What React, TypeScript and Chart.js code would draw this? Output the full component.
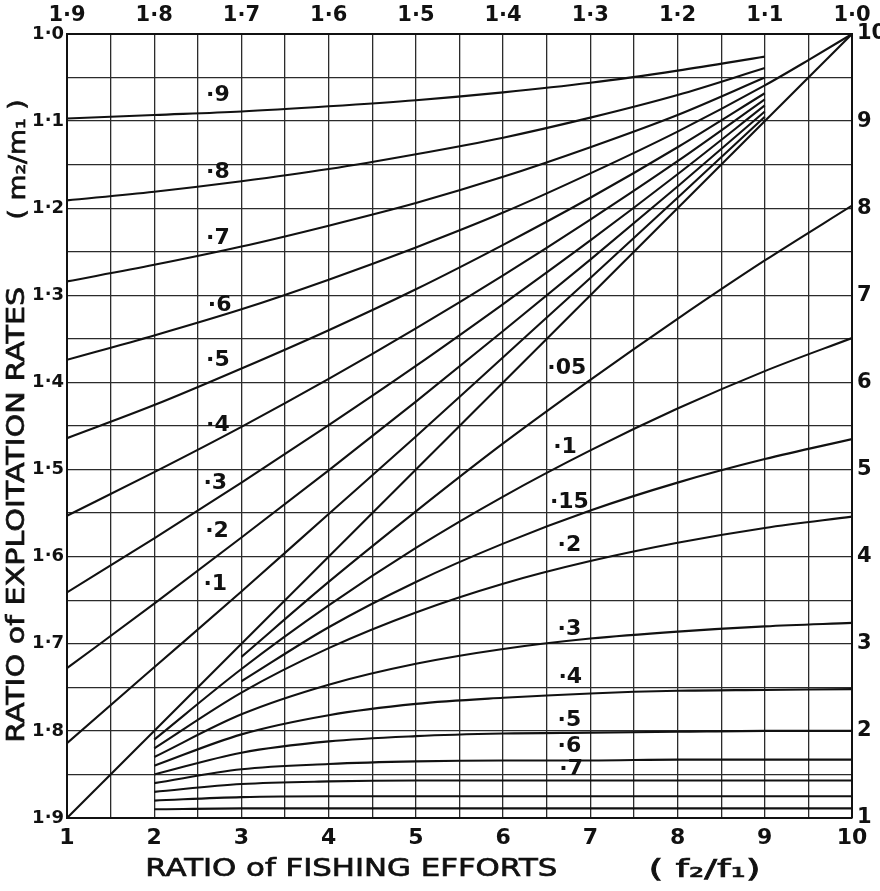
import { useEffect, useRef } from 'react';
import { Chart, registerables } from 'chart.js';

Chart.register(...registerables);

// Tick labels
const effortTicks = ['1', '2', '3', '4', '5', '6', '7', '8', '9', '10'];
const ratioTicks = ['1·9', '1·8', '1·7', '1·6', '1·5', '1·4', '1·3', '1·2', '1·1', '1·0'];
const rateTicks = ['1', '2', '3', '4', '5', '6', '7', '8', '9', '10'];

// Upper family (read on the top / left scales), sampled at f2/f1 = 1..9
const upperX = [1, 2, 3, 4, 5, 6, 7, 8, 9];
const upper90 = [9.03, 9.07, 9.11, 9.17, 9.24, 9.33, 9.44, 9.58, 9.74];
const upper80 = [8.09, 8.19, 8.31, 8.45, 8.62, 8.81, 9.04, 9.3, 9.61];
const upper70 = [7.16, 7.35, 7.56, 7.8, 8.06, 8.36, 8.7, 9.07, 9.5];
const upper60X = [1, 2, 3, 4, 5, 6, 7, 8, 9, 9.5, 10];
const upper60 = [6.26, 6.54, 6.84, 7.18, 7.55, 7.95, 8.4, 8.88, 9.41, 9.7, 10];
const upper50 = [5.36, 5.74, 6.16, 6.6, 7.07, 7.58, 8.12, 8.7, 9.32];
const upper40 = [4.47, 4.97, 5.49, 6.04, 6.62, 7.23, 7.87, 8.54, 9.25];
const upper30 = [3.59, 4.21, 4.85, 5.51, 6.19, 6.9, 7.63, 8.39, 9.18];
const upper20 = [2.72, 3.46, 4.22, 4.99, 5.78, 6.59, 7.41, 8.25, 9.11];
const upper10 = [1.86, 2.73, 3.6, 4.49, 5.38, 6.29, 7.2, 8.12, 9.05];

// Limiting line (very small exploitation rate)
const limitX = [1, 10];
const limitY = [1, 10];

// Lower family (read on the bottom / right scales)
const lowerX2 = [2, 3, 4, 5, 6, 7, 8, 9, 10];
const lowerX3 = [3, 4, 5, 6, 7, 8, 9, 10];
const lower05 = [2.85, 3.71, 4.52, 5.3, 6.03, 6.73, 7.4, 8.03];
const lower10 = [1.9, 2.71, 3.44, 4.1, 4.69, 5.22, 5.7, 6.13, 6.51];
const lower15 = [2.57, 3.19, 3.71, 4.15, 4.53, 4.85, 5.12, 5.35];
const lower20 = [1.8, 2.44, 2.95, 3.36, 3.69, 3.95, 4.16, 4.33, 4.46];
const lower30 = [1.7, 2.19, 2.53, 2.77, 2.94, 3.06, 3.14, 3.2, 3.24];
const lower40 = [1.6, 1.96, 2.18, 2.31, 2.38, 2.43, 2.46, 2.47, 2.48];
const lower50 = [1.5, 1.75, 1.88, 1.94, 1.97, 1.98, 1.99, 2.0, 2.0];
const lower60 = [1.4, 1.56, 1.62, 1.65, 1.66, 1.66, 1.67, 1.67, 1.67];
const lower70 = [1.3, 1.39, 1.42, 1.43, 1.43, 1.43, 1.43, 1.43, 1.43];
const lower80 = [1.2, 1.24, 1.25, 1.25, 1.25, 1.25, 1.25, 1.25, 1.25];
const lower90 = [1.1, 1.11, 1.11, 1.11, 1.11, 1.11, 1.11, 1.11, 1.11];

// Curve labels: text and anchor in chart units
const upperLabelText = ['·9', '·8', '·7', '·6', '·5', '·4', '·3', '·2', '·1'];
const upperLabelX = [2.73, 2.73, 2.73, 2.75, 2.73, 2.73, 2.7, 2.72, 2.7];
const upperLabelY = [9.3, 8.41, 7.66, 6.89, 6.25, 5.51, 4.84, 4.29, 3.68];
const lowerLabelText = ['·05', '·1', '·15', '·2', '·3', '·4', '·5', '·6', '·7'];
const lowerLabelX = [6.73, 6.71, 6.76, 6.76, 6.76, 6.77, 6.76, 6.76, 6.78];
const lowerLabelY = [6.16, 5.25, 4.62, 4.13, 3.17, 2.61, 2.12, 1.82, 1.56];

const INK = '#111111';
const GRID = '#2b2b2b';
const FONT = '"DejaVu Sans", sans-serif';

const toPoints = (xs: number[], ys: number[]) => xs.map((x, i) => ({ x, y: ys[i] }));

const curve = (xs: number[], ys: number[]) => ({
  data: toPoints(xs, ys),
  showLine: true,
  borderColor: INK,
  borderWidth: 2.1,
  pointRadius: 0,
  cubicInterpolationMode: 'monotone' as const,
  xAxisID: 'x',
  yAxisID: 'y',
});

// Draws a hand-lettered style caption stretched to a given length
const drawStretched = (
  ctx: CanvasRenderingContext2D,
  text: string,
  cx: number,
  cy: number,
  length: number,
  rotate: boolean,
) => {
  ctx.save();
  ctx.translate(cx, cy);
  if (rotate) ctx.rotate(-Math.PI / 2);
  const w = ctx.measureText(text).width;
  ctx.scale(length / w, 1);
  ctx.fillText(text, 0, 0);
  ctx.strokeText(text, 0, 0);
  ctx.restore();
};

const annotations = {
  id: 'annotations',
  afterDatasetsDraw(chart: any) {
    const { ctx } = chart;
    const x = chart.scales.x;
    const y = chart.scales.y;
    ctx.save();
    ctx.fillStyle = INK;
    ctx.strokeStyle = INK;
    ctx.lineWidth = 0.7;
    ctx.textAlign = 'center';
    ctx.textBaseline = 'middle';
    ctx.font = `bold 22px ${FONT}`;
    upperLabelText.forEach((t, i) => {
      ctx.fillText(t, x.getPixelForValue(upperLabelX[i]), y.getPixelForValue(upperLabelY[i]));
    });
    lowerLabelText.forEach((t, i) => {
      ctx.fillText(t, x.getPixelForValue(lowerLabelX[i]), y.getPixelForValue(lowerLabelY[i]));
    });

    // Axis titles
    ctx.font = `25px ${FONT}`;
    drawStretched(ctx, 'RATIO of EXPLOITATION RATES', 17, y.getPixelForValue(4.48), 456, true);
    ctx.font = `23px ${FONT}`;
    drawStretched(ctx, '( m₂/m₁ )', 19, y.getPixelForValue(8.56), 120, true);
    ctx.font = `25px ${FONT}`;
    drawStretched(ctx, 'RATIO of FISHING EFFORTS', x.getPixelForValue(4.26), 869, 412, false);
    drawStretched(ctx, '( f₂/f₁)', x.getPixelForValue(8.31), 870, 112, false);
    ctx.restore();
  },
};

export default function App() {
  const canvasRef = useRef<HTMLCanvasElement | null>(null);

  useEffect(() => {
    const canvas = canvasRef.current;
    if (!canvas) return;

    const datasets = [
      curve(upperX, upper90),
      curve(upperX, upper80),
      curve(upperX, upper70),
      curve(upper60X, upper60),
      curve(upperX, upper50),
      curve(upperX, upper40),
      curve(upperX, upper30),
      curve(upperX, upper20),
      curve(upperX, upper10),
      curve(limitX, limitY),
      curve(lowerX3, lower05),
      curve(lowerX2, lower10),
      curve(lowerX3, lower15),
      curve(lowerX2, lower20),
      curve(lowerX2, lower30),
      curve(lowerX2, lower40),
      curve(lowerX2, lower50),
      curve(lowerX2, lower60),
      curve(lowerX2, lower70),
      curve(lowerX2, lower80),
      curve(lowerX2, lower90),
    ];

    const border = { display: true, color: INK, width: 2 };

    const chart = new Chart(canvas, {
      type: 'scatter',
      data: { datasets },
      plugins: [annotations],
      options: {
        responsive: false,
        animation: false,
        events: [],
        layout: { padding: 0 },
        plugins: { legend: { display: false }, tooltip: { enabled: false } },
        scales: {
          x: {
            type: 'linear',
            position: 'bottom',
            min: 1,
            max: 10,
            afterFit: (s: any) => { s.height = 73; },
            grid: { color: GRID, lineWidth: 1.3, drawTicks: false },
            border,
            ticks: {
              stepSize: 0.5,
              autoSkip: false,
              maxRotation: 0,
              padding: 7,
              color: INK,
              font: { family: FONT, size: 22, weight: 'bold' as const },
              callback: (v: any) => (Number.isInteger(v) ? effortTicks[v - 1] : ''),
            },
          },
          xTop: {
            type: 'linear',
            position: 'top',
            display: true,
            min: 1,
            max: 10,
            afterFit: (s: any) => { s.height = 34; },
            grid: { display: false, drawTicks: false },
            border,
            ticks: {
              stepSize: 1,
              autoSkip: false,
              maxRotation: 0,
              padding: 6,
              color: INK,
              font: { family: FONT, size: 21, weight: 'bold' as const },
              callback: (v: any) => ratioTicks[v - 1],
            },
          },
          y: {
            type: 'linear',
            position: 'right',
            min: 1,
            max: 10,
            afterFit: (s: any) => { s.width = 28; },
            grid: { color: GRID, lineWidth: 1.3, drawTicks: false },
            border,
            ticks: {
              stepSize: 0.5,
              autoSkip: false,
              padding: 5,
              color: INK,
              font: { family: FONT, size: 21, weight: 'bold' as const },
              callback: (v: any) => (Number.isInteger(v) ? rateTicks[v - 1] : ''),
            },
          },
          yLeft: {
            type: 'linear',
            position: 'left',
            display: true,
            min: 1,
            max: 10,
            afterFit: (s: any) => { s.width = 67; },
            grid: { display: false, drawTicks: false },
            border,
            ticks: {
              stepSize: 1,
              autoSkip: false,
              padding: 3,
              color: INK,
              font: { family: FONT, size: 18, weight: 'bold' as const },
              callback: (v: any) => ratioTicks[v - 1],
            },
          },
        },
      },
    } as any);

    return () => chart.destroy();
  }, []);

  return (
    <div style={{ position: 'fixed', left: 0, top: 0, width: 880, height: 891, background: '#fff' }}>
      <canvas ref={canvasRef} width={880} height={891} />
    </div>
  );
}
